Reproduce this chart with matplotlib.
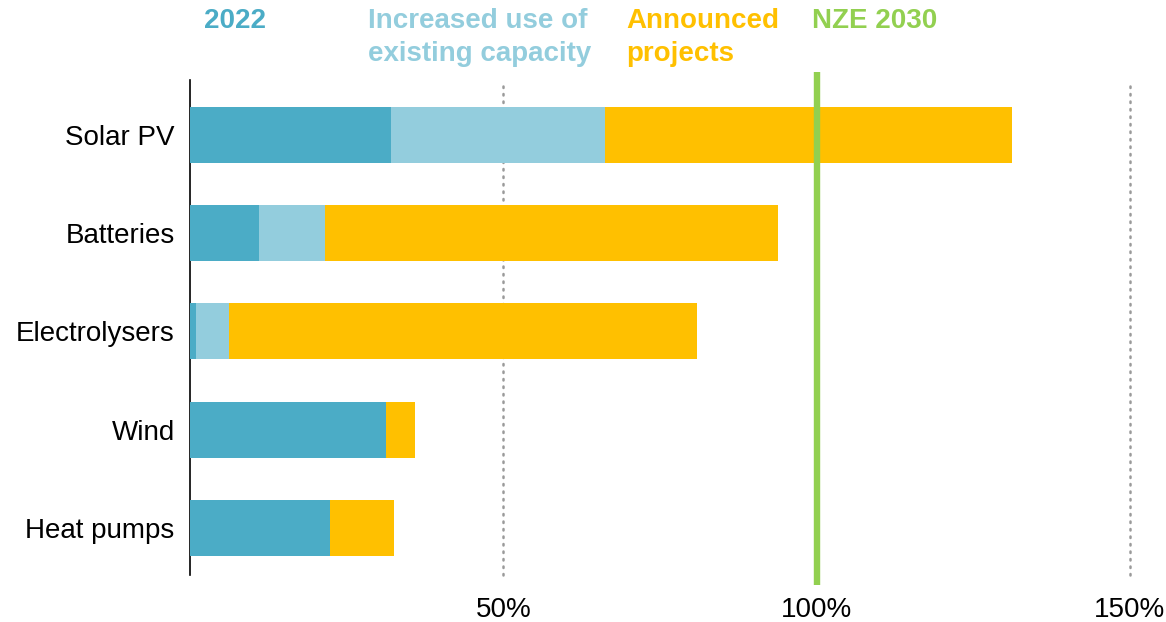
import matplotlib
matplotlib.use("Agg")
import matplotlib.pyplot as plt

plt.rcParams['font.family'] = ['Liberation Sans', 'DejaVu Sans']

categories = ["Solar PV", "Batteries", "Electrolysers", "Wind", "Heat pumps"]
seg_2022 = [32.1, 11.0, 1.0, 31.3, 22.3]
seg_existing = [34.2, 10.5, 5.2, 0.0, 0.0]
seg_announced = [64.8, 72.4, 74.7, 4.6, 10.2]
nze_2030 = 100
xticks = [50, 100, 150]
xtick_labels = ["50%", "100%", "150%"]
legend_labels = ["2022", "Increased use of\nexisting capacity", "Announced\nprojects", "NZE 2030"]

c_2022 = "#4BACC6"
c_exist = "#93CDDD"
c_ann = "#FFC000"
c_nze = "#92D050"

W, H = 1166, 622
fig = plt.figure(figsize=(W / 100, H / 100), dpi=100)
ax = fig.add_axes([190 / W, 1 - 575 / H, (1130 - 190) / W, (575 - 80) / H])

y = list(range(len(categories)))
left2 = [a + b for a, b in zip(seg_2022, seg_existing)]
bh = 0.57
ax.barh(y, seg_2022, height=bh, color=c_2022, zorder=3)
ax.barh(y, seg_existing, left=seg_2022, height=bh, color=c_exist, zorder=3)
ax.barh(y, seg_announced, left=left2, height=bh, color=c_ann, zorder=3)

for xv in xticks:
    if xv != nze_2030:
        ax.axvline(xv, color="#9a9a9a", linewidth=1.8, linestyle=(0, (0.6, 2.4)),
                   dash_capstyle="round", zorder=1, clip_on=False)

ax.plot([nze_2030, nze_2030], [1.016, -0.02], transform=ax.get_xaxis_transform(),
        color=c_nze, linewidth=4.6, clip_on=False, zorder=4, solid_capstyle="butt")

ax.set_xlim(0, 150)
ax.set_ylim(len(categories) - 1 + 0.48, -0.56)
ax.set_yticks(y)
ax.set_yticklabels(categories, fontsize=20)
ax.set_xticks(xticks)
ax.set_xticklabels(xtick_labels, fontsize=20)
ax.tick_params(axis="both", length=0)
ax.tick_params(axis="y", pad=11)
ax.tick_params(axis="x", pad=15.5)
for s in ["top", "right", "bottom"]:
    ax.spines[s].set_visible(False)
ax.spines["left"].set_linewidth(1.2)
ax.spines["left"].set_color("black")

legend_colors = [c_2022, c_exist, c_ann, c_nze]
legend_x = [204, 368, 626, 812]
for lab, col, lx in zip(legend_labels, legend_colors, legend_x):
    fig.text(lx / W, 1 - 8 / H, lab, color=col, fontsize=20, fontweight="bold",
             ha="left", va="top", linespacing=1.36)

fig.savefig("out.png", dpi=100)
